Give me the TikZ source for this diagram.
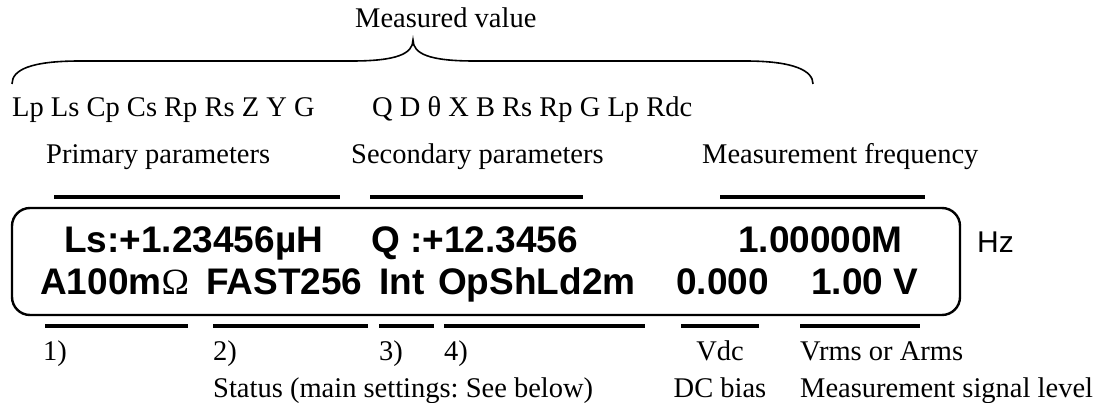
\documentclass[tikz,border=0pt]{standalone}
\usepackage{fontspec}
\setmainfont{Liberation Serif}
\newfontfamily\lcdfont{Liberation Sans}
\usepackage{tikz}
\usetikzlibrary{positioning}
\frenchspacing
\tikzset{
  lbl/.style={font=\fontsize{28.5}{34}\selectfont, inner sep=0pt, anchor=base west},
  lcd/.style={font=\lcdfont\bfseries\fontsize{37}{44}\selectfont, inner sep=0pt, anchor=base west},
  ubar/.style={line width=4pt},
  lcdframe/.style={line width=2.4pt, rounded corners=18pt}
}

\begin{document}
\begin{tikzpicture}[x=1pt, y=-1pt]
        \useasboundingbox (0,0) rectangle (1099,403);
        % measured value brace
        \node[lbl] (meas) at (355,28) {Measured value};
        \draw[line width=1.6pt] (12,84) .. controls (12,70) and (30,61) .. (80,61) -- (352,61)
          .. controls (396,61) and (413,54) .. (413,40) .. controls (413,54) and (430,61) .. (474,61)
          -- (745,61) .. controls (795,61) and (813,71) .. (813,84);
        \node[lbl] (prim) at (12,117) {Lp Ls Cp Cs Rp Rs Z Y G};
        \node[lbl] (sec) at (372,117) {Q D θ X B Rs Rp G Lp Rdc};
        \node[lbl] (primt) at (46,164) {Primary parameters};
        \node[lbl] (sect) at (351,164) {Secondary parameters};
        \node[lbl] (freqt) at (702,164) {Measurement frequency};
        \draw[ubar] (54,197) -- (340,197); \draw[ubar] (370,197) -- (583,197);
        \draw[ubar] (720,197) -- (925,197);
        % display
        \draw[lcdframe] (12,208) rectangle (960,315);
        \node[lcd] (ls) at (64,252) {Ls:+1.23456µH};
        \node[lcd] (qv) at (371,252) {Q :+12.3456};
        \node[lcd] (fr) at (738,252) {1.00000M};
        \node[lcd] (rng) at (40,294) {A100m{\rmfamily\mdseries Ω}};
        \node[lcd] (spd) at (206,294) {FAST256};
        \node[lcd] (trg) at (379,294) {Int};
        \node[lcd] (cor) at (438,294) {OpShLd2m};
        \node[lcd] (dcv) at (676,294) {0.000};
        \node[lcd] (lev) at (811,294) {1.00 V};
        \node[font=\lcdfont\fontsize{30}{36}\selectfont, inner sep=0pt, anchor=base west] (hz) at (977,252) {Hz};
        % status fields
        \draw[ubar] (45,326) -- (188,326); \draw[ubar] (213,326) -- (368,326);
        \draw[ubar] (379,326) -- (434,326); \draw[ubar] (444,326) -- (645,326);
        \draw[ubar] (681,326) -- (759,326); \draw[ubar] (800,326) -- (920,326);
        \node[lbl] (n1) at (43,360) {1)};
        \node[lbl] (n2) at (213,360) {2)};
        \node[lbl] (n3) at (379,360) {3)};
        \node[lbl] (n4) at (444,360) {4)};
        \node[lbl, anchor=base] (vdc) at (720,360) {Vdc};
        \node[lbl] (vrms) at (800,360) {Vrms or Arms};
        \node[lbl] (stat) at (213,397) {Status (main settings: See below)};
        \node[lbl, anchor=base] (dcb) at (720,397) {DC bias};
        \node[lbl] (msl) at (800,397) {Measurement signal level};
      \end{tikzpicture}
\end{document}
